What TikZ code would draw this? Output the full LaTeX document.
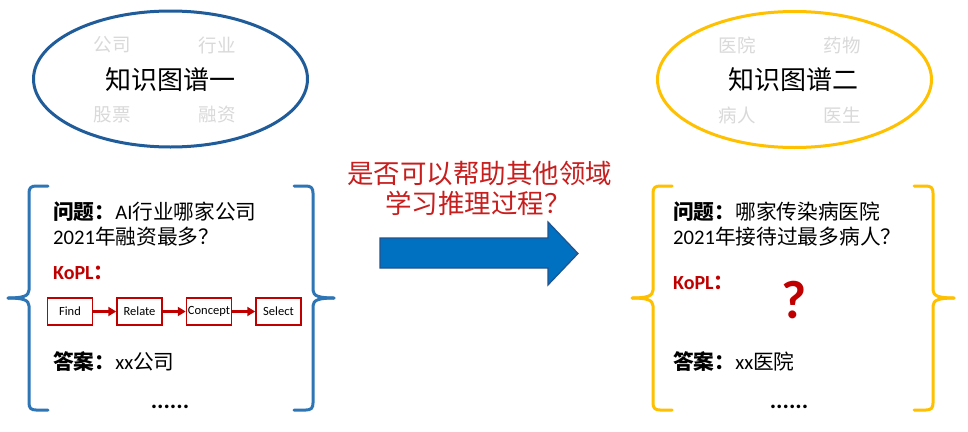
\documentclass[tikz,border=0pt]{standalone}
\usepackage{fontspec}
\newfontfamily\cjk{Noto Sans CJK SC}
\newfontfamily\lat{Carlito}
\usetikzlibrary{arrows.meta,shapes.geometric}
\definecolor{ebl}{RGB}{31,92,153}
\definecolor{bbl}{RGB}{46,117,182}
\definecolor{gold}{RGB}{255,192,0}
\definecolor{lg}{RGB}{217,217,217}
\definecolor{dred}{RGB}{192,0,0}
\definecolor{mred}{RGB}{200,30,30}
\definecolor{ablue}{RGB}{0,112,192}
\definecolor{aedge}{RGB}{36,82,140}
\tikzset{
  kgell/.style={ellipse, draw, line width=3pt, minimum width=274pt, minimum height=136pt, inner sep=0pt},
  kgtitle/.style={inner sep=0pt, font=\cjk\fontsize{26}{30}\selectfont},
  kgword/.style={inner sep=0pt, text=lg, font=\cjk\fontsize{18.5}{22}\selectfont},
  txt/.style={anchor=west, inner sep=0pt, font=\fontsize{20.7}{24}\selectfont},
  kopl/.style={anchor=west, inner sep=0pt, text=dred, font=\fontsize{20}{24}\selectfont\bfseries},
  dots/.style={inner sep=0pt, font=\lat\bfseries\fontsize{24}{28}\selectfont},
  opbox/.style={draw=dred, line width=1.5pt, fill=white, minimum width=45pt, minimum height=27pt, inner sep=0pt, font=\lat\fontsize{12.5}{14}\selectfont},
  oparrow/.style={draw=dred, line width=2.5pt, -{Triangle[length=8pt,width=9pt]}},
  midtxt/.style={anchor=west, inner sep=0pt, text=mred, font=\cjk\fontsize{26.5}{30}\selectfont},
  mybrace/.pic={
    \draw[line width=3pt, line cap=round] (19,0) -- (7,0) .. controls (2,0) and (0,2) .. (0,7) -- (0,104)
      .. controls (0,110) and (-6,112) .. (-21,112);
    \draw[line width=3pt, line cap=round] (-21,112) .. controls (-6,112) and (0,114) .. (0,120) -- (0,217)
      .. controls (0,222) and (2,224) .. (7,224) -- (19,224);
  }
}
\begin{document}
\begin{tikzpicture}[x=1pt,y=-1pt]
\useasboundingbox[fill=white] (0,0) rectangle (968,431);

% ellipses
\node[kgell, draw=ebl] (kg1) at (170.5,79) {};
\node[kgtitle] (kg1t) at (170,80) {知识图谱一};
\node[kgword] (w1) at (112,45) {公司};
\node[kgword] (w2) at (217,45) {行业};
\node[kgword] (w3) at (112,115) {股票};
\node[kgword] (w4) at (217,115) {融资};

\node[kgell, draw=gold] (kg2) at (794.5,79.5) {};
\node[kgtitle] (kg2t) at (793,80) {知识图谱二};
\node[kgword] (v1) at (737,45) {医院};
\node[kgword] (v2) at (842,45) {药物};
\node[kgword] (v3) at (737,115) {病人};
\node[kgword] (v4) at (842,115) {医生};

% braces
\pic[color=bbl] at (29,186) {mybrace};
\pic[color=bbl, xscale=-1] at (313,186) {mybrace};
\pic[color=gold] at (653,186) {mybrace};
\pic[color=gold, xscale=-1] at (933,186) {mybrace};

% left panel
\node[txt] (q1a) at (53,212) {{\cjk\bfseries 问题：}{\lat AI}{\cjk 行业哪家公司}};
\node[txt] (q1b) at (53,237) {{\lat 2021}{\cjk 年融资最多？}};
\node[kopl] (k1) at (53,273) {{\lat KoPL}{\cjk ：}};
\node[opbox] (find) at (70,311.5) {Find};
\node[opbox] (relate) at (139.5,311.5) {Relate};
\node[opbox] (concept) at (209,311.5) {Concept};
\node[opbox] (select) at (278.5,311.5) {Select};
\draw[oparrow] (find) -- (relate);
\draw[oparrow] (relate) -- (concept);
\draw[oparrow] (concept) -- (select);
\node[txt] (a1) at (53,362) {{\cjk\bfseries 答案：}{\lat xx}{\cjk 公司}};
\node[dots] (d1) at (170,407) {......};

% middle
\node[midtxt] (m1) at (347,173) {是否可以帮助其他领域};
\node[midtxt] (m2) at (385,203) {学习推理过程？};
\draw[fill=ablue, draw=aedge, line width=1.2pt] (380,238) -- (548,238) -- (548,222) -- (578,253.5)
  -- (548,285) -- (548,268) -- (380,268) -- cycle;

% right panel
\node[txt] (q2a) at (673,212) {{\cjk\bfseries 问题：}{\cjk 哪家传染病医院}};
\node[txt] (q2b) at (673,237) {{\lat 2021}{\cjk 年接待过最多病人？}};
\node[kopl] (k2) at (673,283) {{\lat KoPL}{\cjk ：}};
\node[inner sep=0pt, text=dred, font=\lat\bfseries\fontsize{54}{58}\selectfont] (qm) at (794,300) {?};
\node[txt] (a2) at (673,362) {{\cjk\bfseries 答案：}{\lat xx}{\cjk 医院}};
\node[dots] (d2) at (789,407) {......};
\end{tikzpicture}
\end{document}
